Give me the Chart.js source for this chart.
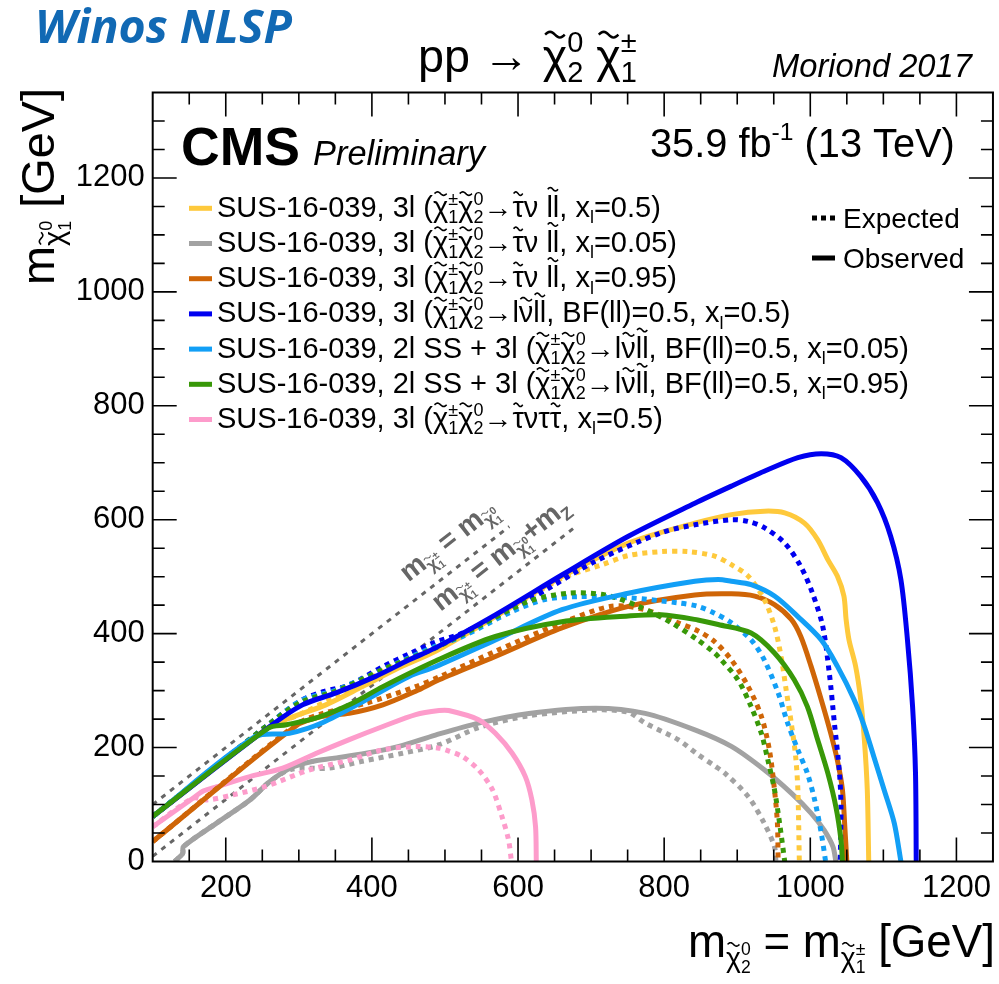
<!DOCTYPE html>
<html>
<head>
<meta charset="utf-8">
<script src="https://cdn.jsdelivr.net/npm/chart.js@4.4.0/dist/chart.umd.min.js"></script>
<style>
  html, body { margin: 0; padding: 0; background: #fff; }
  canvas { display: block; }
</style>
</head>
<body>
<canvas id="c" width="999" height="984"></canvas>
<script>
const FONT = '"Liberation Sans", Arial, Helvetica, sans-serif';

const xTickValues = [200, 400, 600, 800, 1000, 1200];
const yTickValues = [0, 200, 400, 600, 800, 1000, 1200];

// exclusion contours, [m(chi2) , m(chi1^0)] in GeV
const tauSlep05Obs = [[100,79],[257,234],[292,254],[337,275],[387,307],[437,340],[487,369],[569,430],[660,500],[751,559],[842,594],[892,609],[937,615],[965,612],[992,594],[1010,565],[1024,530],[1037,501],[1046,466],[1049,425],[1053,389],[1062,343],[1069,284],[1074,214],[1078,126],[1080,0]];
const tauSlep05Exp = [[100,79],[257,234],[301,258],[351,290],[415,334],[487,375],[569,430],[660,497],[715,521],[751,537],[796,544],[833,544],[869,536],[892,521],[915,501],[937,460],[951,413],[960,360],[967,301],[974,243],[980,184],[983,126],[985,0]];

const tauSlep005Obs = [[130,0],[141,14],[142,26],[187,67],[233,108],[260,140],[290,165],[320,176],[346,181],[392,190],[437,202],[487,222],[546,243],[615,260],[706,269],[774,260],[842,231],[892,202],[937,161],[974,120],[1001,85],[1019,55],[1031,26],[1035,0]];
const tauSlep005Exp = [[130,0],[141,14],[142,26],[187,67],[233,108],[260,140],[290,162],[342,164],[387,176],[442,190],[492,205],[546,235],[615,256],[706,266],[751,262],[774,243],[819,214],[846,188],[869,168],[883,155],[915,114],[937,67],[951,26],[953,0]];

const tauSlep095Obs = [[100,35],[296,238],[333,255],[369,260],[415,275],[460,299],[492,319],[569,360],[660,410],[751,448],[842,468],[892,470],[924,466],[951,451],[974,425],[987,395],[1001,343],[1015,284],[1028,225],[1037,178],[1044,126],[1047,67],[1050,0]];
const tauSlep095Exp = [[100,35],[296,240],[333,260],[392,278],[460,307],[492,324],[569,369],[660,419],[728,448],[774,442],[819,419],[846,405],[869,386],[892,354],[915,307],[933,255],[944,196],[951,126],[955,67],[956,0]];

const lSnu05Obs = [[100,79],[257,234],[305,275],[351,296],[405,325],[451,354],[487,375],[569,433],[660,503],[751,571],[842,629],[892,659],[937,685],[983,709],[1015,716],[1042,709],[1069,676],[1092,630],[1110,571],[1124,495],[1133,389],[1140,272],[1144,155],[1145,0]];
const lSnu05Exp = [[100,79],[264,246],[305,284],[333,298],[369,310],[415,342],[455,367],[487,385],[524,401],[615,460],[706,527],[796,577],[846,592],[892,600],[915,597],[937,586],[965,559],[987,518],[1003,471],[1017,413],[1026,331],[1033,243],[1040,155],[1042,96],[1041,0]];

const ssLSnu005Obs = [[100,79],[240,219],[287,225],[333,244],[392,284],[451,325],[487,342],[569,389],[660,442],[751,471],[842,492],[874,495],[892,492],[919,486],[951,466],[983,430],[1015,389],[1037,343],[1060,284],[1074,237],[1087,184],[1101,126],[1115,67],[1124,0]];
const ssLSnu005Exp = [[100,79],[264,246],[305,284],[351,301],[415,337],[487,378],[524,395],[592,439],[637,460],[683,465],[751,463],[819,454],[846,448],[869,436],[892,419],[919,389],[937,354],[956,296],[969,243],[983,196],[996,155],[1006,108],[1015,50],[1021,0]];

const ssLSnu095Obs = [[100,79],[258,234],[283,240],[324,252],[369,275],[415,307],[487,352],[569,395],[660,421],[751,431],[796,433],[846,424],[874,416],[919,401],[951,366],[978,319],[996,272],[1010,214],[1024,155],[1035,96],[1042,38],[1044,0]];
const ssLSnu095Exp = [[100,79],[264,246],[305,281],[351,299],[415,337],[487,375],[546,413],[615,457],[669,471],[719,468],[765,448],[810,419],[846,389],[869,366],[878,354],[901,319],[919,272],[933,225],[942,178],[951,126],[958,67],[965,0]];

const tauTau05Obs = [[100,61],[155,111],[170,124],[187,131],[233,149],[278,164],[324,190],[369,214],[415,237],[460,258],[492,265],[505,265],[546,249],[569,225],[592,190],[610,149],[619,108],[624,61],[625,0]];
const tauTau05Exp = [[100,61],[155,111],[174,108],[210,117],[255,132],[315,161],[369,178],[415,196],[460,202],[492,199],[501,196],[524,184],[546,161],[565,126],[578,79],[587,38],[591,0]];

// kinematic boundaries
const diagNoZ = [[100,100],[588,588]];
const diagZ = [[100,9],[680,589]];

const YELLOW = '#fec93c', GREY = '#a2a2a2', ORANGE = '#cf6507', BLUE = '#0000f0',
      LBLUE = '#129ff6', GREEN = '#389808', PINK = '#fd9ccb';

function contour(points, color, dashed) {
  return {
    data: points.map(([x, y]) => ({x, y})),
    borderColor: color,
    borderWidth: 5,
    borderDash: dashed ? [5, 5] : [],
    borderCapStyle: 'butt',
    pointRadius: 0,
    tension: 0.3,
    fill: false
  };
}

// first dataset ends up on top
const datasets = [
  contour(ssLSnu095Obs, GREEN, false),
  contour(ssLSnu005Obs, LBLUE, false),
  contour(lSnu05Obs, BLUE, false),
  contour(ssLSnu095Exp, GREEN, true),
  contour(ssLSnu005Exp, LBLUE, true),
  contour(lSnu05Exp, BLUE, true),
  contour(tauSlep05Obs, YELLOW, false),
  contour(tauSlep05Exp, YELLOW, true),
  contour(tauSlep095Obs, ORANGE, false),
  contour(tauSlep095Exp, ORANGE, true),
  contour(tauTau05Obs, PINK, false),
  contour(tauTau05Exp, PINK, true),
  contour(tauSlep005Obs, GREY, false),
  contour(tauSlep005Exp, GREY, true),
  Object.assign(contour(diagNoZ, '#666', true), {borderWidth: 3, borderDash: [5, 6], tension: 0}),
  Object.assign(contour(diagZ, '#666', true), {borderWidth: 3, borderDash: [5, 6], tension: 0})
];

// ---- small TLatex-like text helper ----
function tilde(ctx, x, y, w, h) {
  ctx.beginPath();
  for (let i = 0; i <= 16; i++) {
    const t = i / 16;
    const px = x + t * w, py = y - Math.sin(t * Math.PI * 2) * h;
    i ? ctx.lineTo(px, py) : ctx.moveTo(px, py);
  }
  ctx.stroke();
}

function rich(ctx, runs, x, y, size, style, draw) {
  let cx = x;
  for (const r of runs) {
    if (typeof r === 'string') {
      ctx.font = `${style} ${size}px ${FONT}`;
      if (draw) ctx.fillText(r, cx, y);
      cx += ctx.measureText(r).width;
    } else if (r.t) {
      ctx.font = `${style} ${size}px ${FONT}`;
      const w = ctx.measureText(r.t).width;
      if (draw) {
        ctx.fillText(r.t, cx, y);
        ctx.strokeStyle = ctx.fillStyle;
        ctx.lineWidth = Math.max(1, size * 0.055);
        tilde(ctx, cx + w * 0.1, y - size * (r.h || 0.8), w * 0.8, size * 0.06);
      }
      cx += w;
    } else {
      const s = size * 0.62;
      let w = 0;
      if (r.b) w = Math.max(w, rich(ctx, r.b, cx, y + size * 0.22, s, style, draw));
      if (r.p) w = Math.max(w, rich(ctx, r.p, cx, y - size * 0.42, s, style, draw));
      cx += w;
    }
  }
  return cx - x;
}

// draw runs so that they span the given width
function richFit(ctx, runs, x, y, width, style) {
  const size = 100 * width / rich(ctx, runs, 0, 0, 100, style, false);
  rich(ctx, runs, x, y, size, style, true);
  return size;
}

const chi10 = [{t: 'χ'}, {b: ['1'], p: ['0']}];
const chi20 = [{t: 'χ'}, {b: ['2'], p: ['0']}];
const chi1pm = [{t: 'χ'}, {b: ['1'], p: ['±']}];
const pair = [...chi1pm, ...chi20];
const xl = v => [', x', {b: ['l']}, '=' + v + ')'];
const decayTau = [{t: 'τ'}, 'ν ', {t: 'll', h: 0.95}];
const decayL = ['l', {t: 'ν'}, {t: 'll', h: 0.95}];

const legendRows = [
  [YELLOW, ['SUS-16-039, 3l (', ...pair, '→', ...decayTau, ...xl('0.5')]],
  [GREY, ['SUS-16-039, 3l (', ...pair, '→', ...decayTau, ...xl('0.05')]],
  [ORANGE, ['SUS-16-039, 3l (', ...pair, '→', ...decayTau, ...xl('0.95')]],
  [BLUE, ['SUS-16-039, 3l (', ...pair, '→', ...decayL, ', BF(ll)=0.5', ...xl('0.5')]],
  [LBLUE, ['SUS-16-039, 2l SS + 3l (', ...pair, '→', ...decayL, ', BF(ll)=0.5', ...xl('0.05')]],
  [GREEN, ['SUS-16-039, 2l SS + 3l (', ...pair, '→', ...decayL, ', BF(ll)=0.5', ...xl('0.95')]],
  [PINK, ['SUS-16-039, 3l (', ...pair, '→', {t: 'τ'}, 'ντ', {t: 'τ'}, ...xl('0.5')]]
];

const decor = {
  id: 'decor',
  afterDraw(chart) {
    const {ctx, chartArea: a, scales: {x, y}} = chart;
    ctx.save();
    ctx.fillStyle = '#000';
    ctx.strokeStyle = '#000';
    ctx.textBaseline = 'alphabetic';

    // frame and inward ticks on all four sides
    ctx.lineWidth = 2;
    ctx.strokeRect(a.left, a.top, a.right - a.left, a.bottom - a.top);
    ctx.lineWidth = 1.6;
    ctx.beginPath();
    for (let v = 150; v < 1250; v += 50) {
      const px = x.getPixelForValue(v), len = v % 200 === 0 ? 24 : 12;
      ctx.moveTo(px, a.bottom); ctx.lineTo(px, a.bottom - len);
      ctx.moveTo(px, a.top); ctx.lineTo(px, a.top + len);
    }
    for (let v = 50; v < 1350; v += 50) {
      const py = y.getPixelForValue(v), len = v % 200 === 0 ? 24 : 12;
      ctx.moveTo(a.left, py); ctx.lineTo(a.left + len, py);
      ctx.moveTo(a.right, py); ctx.lineTo(a.right - len, py);
    }
    ctx.stroke();

    // labels along the kinematic boundaries
    const ang = Math.atan2(y.getPixelForValue(500) - y.getPixelForValue(0),
                           x.getPixelForValue(600) - x.getPixelForValue(100));
    ctx.fillStyle = '#666';
    const diagLabel = (runs, vx, vy) => {
      ctx.save();
      ctx.translate(x.getPixelForValue(vx), y.getPixelForValue(vy));
      ctx.rotate(ang);
      rich(ctx, runs, 0, 0, 28, 'bold', true);
      ctx.restore();
    };
    diagLabel(['m', {b: chi1pm}, ' = m', {b: chi10}], 450, 490);
    diagLabel(['m', {b: chi1pm}, ' = m', {b: chi10}, '+m', {b: ['Z']}], 494, 438);

    // axis titles
    ctx.fillStyle = '#000';
    const xTitle = ['m', {b: chi20}, ' = m', {b: chi1pm}, ' [GeV]'];
    richFit(ctx, xTitle, 688, 957, 307, '');
    const yTitle = ['m', {b: chi10}, ' [GeV]'];
    ctx.save();
    ctx.translate(54, 285);
    ctx.rotate(-Math.PI / 2);
    richFit(ctx, yTitle, 0, 0, 197, '');
    ctx.restore();

    // header texts
    ctx.font = `italic bold 32px "Open Sans", ${FONT}`;
    const wn = ctx.measureText('Winos NLSP').width;
    ctx.font = `italic bold ${32 * 257 / wn}px "Open Sans", ${FONT}`;
    ctx.fillStyle = '#1169b4';
    ctx.fillText('Winos NLSP', 35, 43);
    ctx.fillStyle = '#000';
    richFit(ctx, ['pp → ', {t: 'χ'}, {b: ['2'], p: ['0']}, ' ', {t: 'χ'}, {b: ['1'], p: ['±']}], 418, 72, 219, '');
    richFit(ctx, ['Moriond 2017'], 772, 77, 200, 'italic');
    richFit(ctx, ['CMS'], 181, 165, 119, 'bold');
    richFit(ctx, ['Preliminary'], 313, 165, 172, 'italic');
    richFit(ctx, ['35.9 fb', {p: ['-1']}, ' (13 TeV)'], 650, 157, 305, '');

    // model legend
    legendRows.forEach(([color, runs], i) => {
      const cy = 208.3 + i * 35.2;
      ctx.fillStyle = color;
      ctx.fillRect(189, cy - 2.5, 23, 5);
      ctx.fillStyle = '#000';
      rich(ctx, runs, 217, cy + 8.5, 29, '', true);
    });

    // expected / observed key
    ctx.fillStyle = '#000';
    for (let i = 0; i < 3; i++) ctx.fillRect(812 + i * 9, 215.5, 5, 5);
    ctx.fillRect(812, 255.5, 23, 5);
    ctx.font = `28px ${FONT}`;
    ctx.fillText('Expected', 843, 228);
    ctx.fillText('Observed', 843, 268);
    ctx.restore();
  }
};

new Chart(document.getElementById('c'), {
  type: 'line',
  data: {datasets},
  options: {
    responsive: false,
    animation: false,
    events: [],
    layout: {padding: {top: 92.5, left: 0, right: 2.3, bottom: 0}},
    plugins: {legend: {display: false}, tooltip: {enabled: false}},
    scales: {
      x: {
        type: 'linear', min: 100, max: 1250,
        afterBuildTicks: s => { s.ticks = xTickValues.map(v => ({value: v})); },
        afterFit: s => { s.height = 122.5; },
        grid: {display: false, drawTicks: false},
        border: {display: false},
        ticks: {color: '#000', font: {family: FONT, size: 31}, padding: 8, maxRotation: 0, autoSkip: false, callback: v => String(v)}
      },
      y: {
        type: 'linear', min: 0, max: 1350,
        afterBuildTicks: s => { s.ticks = yTickValues.map(v => ({value: v})); },
        afterFit: s => { s.width = 152.7; },
        grid: {display: false, drawTicks: false},
        border: {display: false},
        ticks: {color: '#000', font: {family: FONT, size: 31}, padding: 8, autoSkip: false, callback: v => String(v)}
      }
    }
  },
  plugins: [decor]
});
</script>
</body>
</html>
